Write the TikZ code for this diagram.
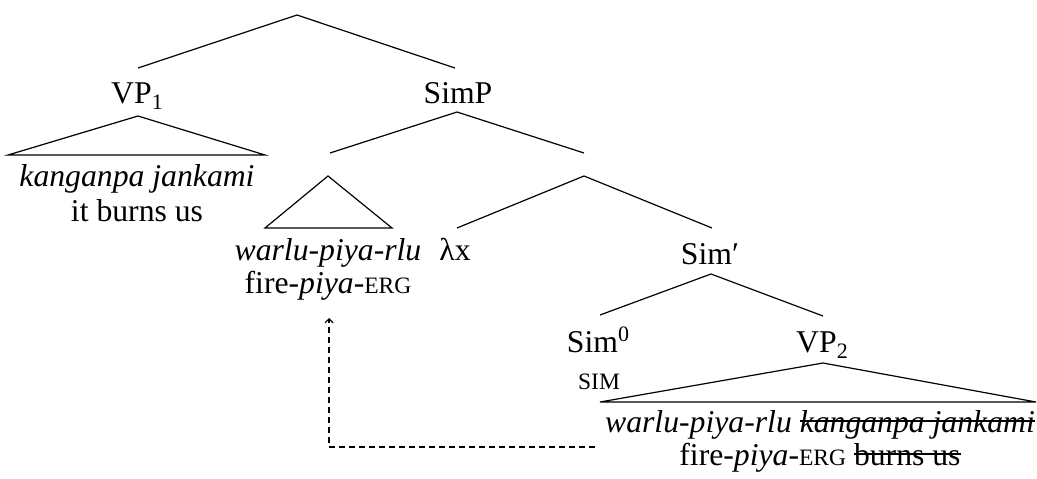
\documentclass[tikz,border=0pt]{standalone}
\usepackage{fontspec}
\setmainfont{Liberation Serif}
\usetikzlibrary{arrows.meta}
\newcommand\smc[1]{{\fontsize{23.5}{24}\selectfont #1}}
\newcommand\sbs[1]{\raisebox{-6pt}{\fontsize{22}{22}\selectfont #1}}
\newcommand\sps[1]{\raisebox{11pt}{\fontsize{22}{22}\selectfont #1}}
\newcommand\strk[1]{\setbox0\hbox{#1}\rlap{\rule[10.5pt]{\wd0}{1.2pt}}\box0}
\begin{document}
\begin{tikzpicture}[x=1pt,y=-1pt,
  lbl/.style={anchor=base,inner sep=0pt,font=\fontsize{31.7}{33}\selectfont},
  br/.style={line width=1.2pt},
  mv/.style={line width=1.2pt,dash pattern=on 6pt off 4pt,-{Straight Barb[length=4pt,width=8pt]}}]
\useasboundingbox (0,0) rectangle (1037,479);
% coordinates
\coordinate (root) at (297,15);
\coordinate (rootL) at (138,68);
\coordinate (rootR) at (455,68);
\coordinate (vp1T) at (138,116);
\coordinate (vp1L) at (8,155);
\coordinate (vp1R) at (265,155);
\coordinate (simpT) at (457,112);
\coordinate (simpL) at (330,153);
\coordinate (simpR) at (584,153);
\coordinate (wT) at (328,176);
\coordinate (wL) at (265,228);
\coordinate (wR) at (392,228);
\coordinate (xT) at (584,176);
\coordinate (xL) at (457,228);
\coordinate (xR) at (712,228);
\coordinate (sbT) at (711,274);
\coordinate (sbL) at (600,315);
\coordinate (sbR) at (823,316);
\coordinate (vp2T) at (823,363);
\coordinate (vp2L) at (600,402);
\coordinate (vp2R) at (1036,402);
\coordinate (mvS) at (595,447);
\coordinate (mvC) at (329,447);
\coordinate (mvE) at (329,318);
% labels
\node[lbl] (vp1) at (137,103) {VP\sbs{1}};
\node[lbl] (simp) at (458,103) {SimP};
\node[lbl] (kj) at (137,186) {\emph{kanganpa jankami}};
\node[lbl] (ibu) at (137,221) {it burns us};
\node[lbl] (wpr) at (328,260) {\emph{warlu-piya-rlu}};
\node[lbl] (fpe) at (328,293) {fire-\emph{piya}-\smc{ERG}};
\node[lbl] (lx) at (455,260) {λx};
\node[lbl] (simb) at (710,264) {Sim′};
\node[lbl] (sim0) at (598,352) {Sim\sps{0}};
\node[lbl] (simsc) at (599,389) {\smc{SIM}};
\node[lbl] (vp2) at (822,352) {VP\sbs{2}};
\node[lbl] (l1) at (820,432) {\emph{warlu-piya-rlu \strk{kanganpa jankami}}};
\node[lbl] (l2) at (820,465) {fire-\emph{piya}-\smc{ERG} \strk{burns us}};
% branches
\draw[br] (rootL) -- (root) -- (rootR);
\draw[br] (vp1L) -- (vp1T) -- (vp1R) -- cycle;
\draw[br] (simpL) -- (simpT) -- (simpR);
\draw[br] (wL) -- (wT) -- (wR) -- cycle;
\draw[br] (xL) -- (xT) -- (xR);
\draw[br] (sbL) -- (sbT) -- (sbR);
\draw[br] (vp2L) -- (vp2T) -- (vp2R) -- cycle;
% movement
\draw[mv] (mvS) -- (mvC) -- (mvE);
\end{tikzpicture}
\end{document}
